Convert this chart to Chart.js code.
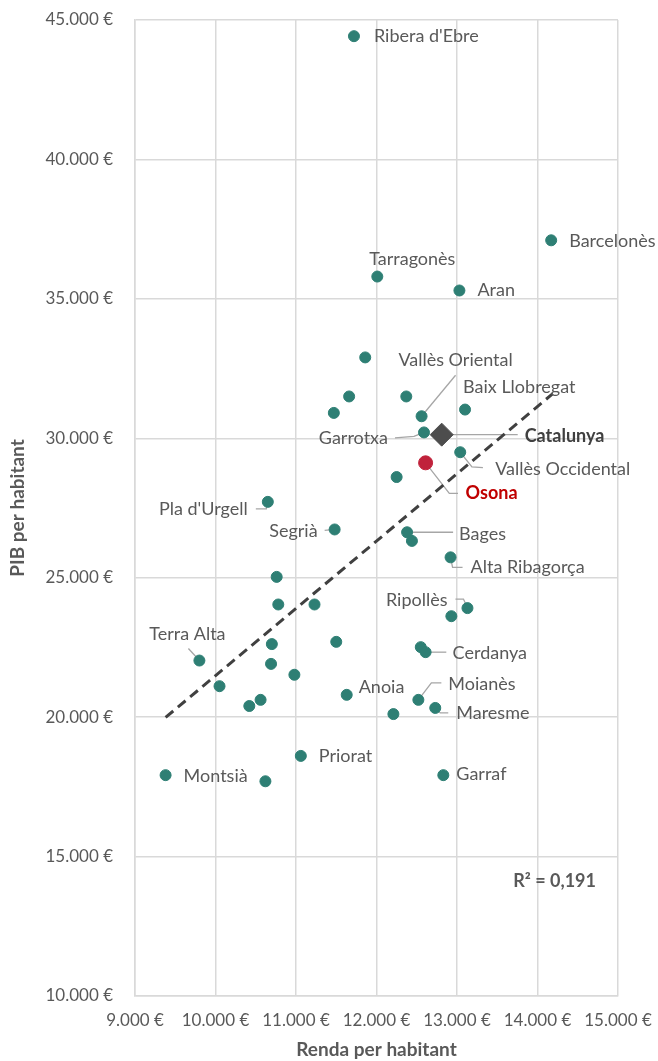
<!DOCTYPE html>
<html>
<head>
<meta charset="utf-8">
<script src="https://cdn.jsdelivr.net/npm/chart.js@4.4.0/dist/chart.umd.min.js"></script>
<style>
  html, body { margin: 0; padding: 0; background: #fff; }
  #wrap { width: 658px; height: 1061px; }
</style>
</head>
<body>
<div id="wrap"><canvas id="scatter" width="658" height="1061"></canvas></div>
<script>
// comarques: renda per habitant (x) i PIB per habitant (y)
const comarques = [
  "Ribera d'Ebre", "Barcelonès", "Tarragonès", "Aran", "", "", "", "",
  "Vallès Oriental", "Baix Llobregat", "Garrotxa", "Vallès Occidental", "",
  "Pla d'Urgell", "Segrià", "Bages", "", "Alta Ribagorça", "", "", "",
  "Ripollès", "", "Terra Alta", "", "", "", "Cerdanya", "", "", "",
  "Anoia", "Moianès", "Maresme", "", "", "", "Priorat", "Montsià", "", "Garraf",
];
const renda = [
  11720, 14170, 12010, 13030, 11860, 11660, 12370, 11470,
  12560, 13100, 12590, 13040, 12250,
  10650, 11480, 12380, 12440, 12920, 10760, 10780, 11230,
  13130, 12930, 9800, 10700, 11500, 12550, 12610, 10690, 10980, 10050,
  11630, 12520, 12730, 10560, 10420, 12210, 11060, 9380, 10620, 12830,
];
const pib = [
  44420, 37100, 35800, 35300, 32900, 31500, 31500, 30910,
  30790, 31030, 30210, 29500, 28610,
  27720, 26730, 26630, 26320, 25730, 25030, 24040, 24040,
  23910, 23620, 22030, 22620, 22700, 22510, 22330, 21910, 21520, 21110,
  20800, 20620, 20330, 20620, 20400, 20110, 18610, 17920, 17700, 17920,
];
const osona = { renda: 12610, pib: 29120 };
const catalunya = { renda: 12810, pib: 30130 };

// linia de tendencia, extrems llegits del grafic
const trendRenda = [9380, 14190];
const trendPib = [19990, 31600];
const r2Label = "R² = 0,191";

const xTicks = [9000, 15000, 1000];
const yTicks = [10000, 45000, 5000];

// posicio de les etiquetes respecte al punt (px): dx, dy, align, guia
const labelOffsets = {
  "Ribera d'Ebre": [20, 0, "left"],
  "Barcelonès": [18, 1, "left"],
  "Tarragonès": [35, -17, "center"],
  "Aran": [18, 0, "left"],
  "Vallès Oriental": [34, -56, "center", [[0, 0], [34, -41]]],
  "Baix Llobregat": [-2, -22, "left"],
  "Garrotxa": [-36, 6, "right", [[0, 0], [-10, 4], [-29, 5.5]]],
  "Vallès Occidental": [35, 17, "left", [[0, 0], [11.7, 14.7], [22.7, 15.3]]],
  "Pla d'Urgell": [-20, 7, "right", [[0, 0], [-1.5, 7], [-12, 7]]],
  "Segrià": [-17, 1.5, "right", [[0, 0], [-10, 1]]],
  "Bages": [52, 2, "left", [[0, 0], [46, 0]]],
  "Alta Ribagorça": [20, 10, "left", [[0, 0], [2, 10], [12, 10]]],
  "Ripollès": [-20, -8, "right", [[0, 0], [-4, -9], [-12, -9]]],
  "Terra Alta": [-12, -26, "center", [[0, 0], [-11, -12]]],
  "Cerdanya": [27, 1, "left", [[0, 0], [20.7, 0]]],
  "Anoia": [12, -8, "left"],
  "Moianès": [30, -16, "left", [[0, 0], [13, -17], [23, -17]]],
  "Maresme": [21, 5, "left", [[0, 0], [5, 5], [13, 5]]],
  "Priorat": [18, 0, "left"],
  "Montsià": [18, 1, "left"],
  "Garraf": [13, -1, "left"],
  "Osona": [40, 30, "left", [[0, 0], [23.7, 30.6], [32.4, 30.6]]],
  "Catalunya": [83, 1.5, "left", [[0, 0], [76, 0]]],
};

const FONT = "Lato, 'Open Sans', sans-serif";
const GREY = "#595959";
const TEAL = "#2E7F74";

const euro = (v) => String(v).replace(/\B(?=(\d{3})+(?!\d))/g, ".") + " €";

const labelsPlugin = {
  id: "labels",
  items(chart) {
    const out = [];
    chart.getDatasetMeta(0).data.forEach((el, i) => {
      if (comarques[i]) out.push({ name: comarques[i], el });
    });
    out.push({ name: "Osona", el: chart.getDatasetMeta(1).data[0], color: "#C00000", bold: true });
    out.push({ name: "Catalunya", el: chart.getDatasetMeta(2).data[0], color: "#404040", bold: true });
    return out;
  },
  beforeDatasetsDraw(chart) {
    const { ctx } = chart;
    ctx.save();
    ctx.strokeStyle = "#A6A6A6";
    ctx.lineWidth = 1.3;
    this.items(chart).forEach(({ name, el }) => {
      const o = labelOffsets[name];
      if (!o || !o[3]) return;
      ctx.beginPath();
      o[3].forEach(([dx, dy], k) => {
        if (k === 0) ctx.moveTo(el.x + dx, el.y + dy);
        else ctx.lineTo(el.x + dx, el.y + dy);
      });
      ctx.stroke();
    });
    ctx.restore();
  },
  afterDatasetsDraw(chart) {
    const { ctx, chartArea } = chart;
    ctx.save();
    ctx.textBaseline = "middle";
    this.items(chart).forEach(({ name, el, color, bold }) => {
      const o = labelOffsets[name];
      if (!o) return;
      ctx.font = (bold ? "bold " : "") + "18px " + FONT;
      ctx.fillStyle = color || GREY;
      ctx.textAlign = o[2];
      ctx.fillText(name, el.x + o[0], el.y + o[1]);
    });
    ctx.font = "bold 18px " + FONT;
    ctx.fillStyle = GREY;
    ctx.textAlign = "right";
    ctx.fillText(r2Label, chartArea.right - 22, chartArea.bottom - 115);
    ctx.restore();
  },
};

new Chart(document.getElementById("scatter"), {
  type: "scatter",
  data: {
    datasets: [
      {
        label: "Comarques",
        data: renda.map((x, i) => ({ x, y: pib[i] })),
        backgroundColor: TEAL,
        borderColor: TEAL,
        pointRadius: 5.5,
        order: 1,
      },
      {
        label: "Osona",
        data: [{ x: osona.renda, y: osona.pib }],
        backgroundColor: "#C0223B",
        borderColor: "#C0223B",
        pointRadius: 7,
        order: 0,
      },
      {
        label: "Catalunya",
        data: [{ x: catalunya.renda, y: catalunya.pib }],
        backgroundColor: "#4D4D4D",
        borderColor: "#4D4D4D",
        pointStyle: "rectRot",
        pointRadius: 11.5,
        order: 0,
      },
      {
        type: "line",
        label: "Tendència",
        data: trendRenda.map((x, i) => ({ x, y: trendPib[i] })),
        borderColor: "#404040",
        borderWidth: 3,
        borderDash: [10, 6],
        pointRadius: 0,
        fill: false,
        order: 3,
      },
    ],
  },
  options: {
    responsive: false,
    animation: false,
    layout: { padding: { top: 20, right: 40, left: 0, bottom: 0 } },
    plugins: {
      legend: { display: false },
      tooltip: { enabled: false },
    },
    scales: {
      x: {
        type: "linear",
        min: xTicks[0],
        max: xTicks[1],
        afterFit(scale) {
          scale.height = 65;
          scale.paddingLeft = 0;
          scale.paddingRight = 0;
        },
        ticks: {
          stepSize: xTicks[2],
          padding: 14,
          color: GREY,
          font: { family: FONT, size: 17 },
          callback: (v) => euro(v),
        },
        grid: { color: "#D9D9D9", lineWidth: 1.5, drawTicks: false },
        border: { color: "#D9D9D9", width: 1.5 },
        title: {
          display: true,
          text: "Renda per habitant",
          color: GREY,
          font: { family: FONT, size: 19, weight: "bold" },
          padding: { top: 0, bottom: 0 },
        },
      },
      y: {
        type: "linear",
        min: yTicks[0],
        max: yTicks[1],
        afterFit(scale) {
          scale.width = 135;
          scale.paddingTop = 0;
          scale.paddingBottom = 0;
        },
        ticks: {
          stepSize: yTicks[2],
          padding: 22,
          color: GREY,
          font: { family: FONT, size: 17 },
          callback: (v) => euro(v),
        },
        grid: { color: "#D9D9D9", lineWidth: 1.5, drawTicks: false },
        border: { color: "#D9D9D9", width: 1.5 },
        title: {
          display: true,
          text: "PIB per habitant",
          color: GREY,
          font: { family: FONT, size: 19, weight: "bold" },
          padding: { top: 6, bottom: 0 },
        },
      },
    },
  },
  plugins: [labelsPlugin],
});
</script>
</body>
</html>
